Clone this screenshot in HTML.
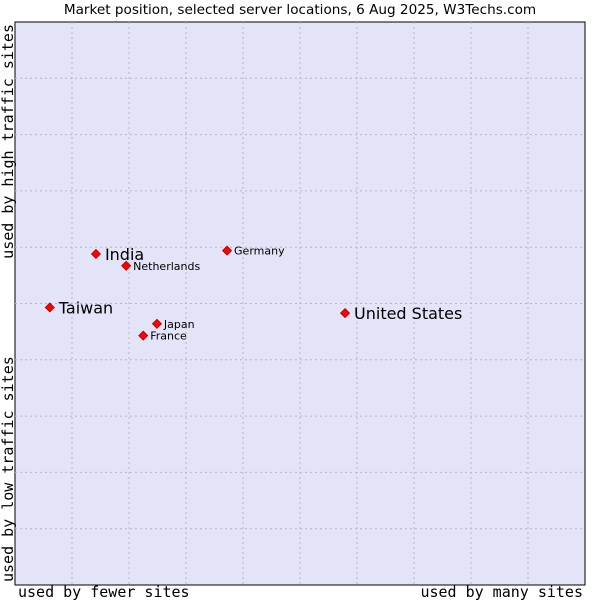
<!DOCTYPE html>
<html><head><meta charset="utf-8"><style>
body{margin:0;background:#fff;}
svg text{font-family:"DejaVu Sans","Liberation Sans",sans-serif;}
.mono{font-family:"DejaVu Sans Mono","Liberation Mono",monospace;}
</style></head><body>
<svg id="chart" width="600" height="600" xmlns="http://www.w3.org/2000/svg">
<text x="300" y="14" text-anchor="middle" font-size="13.6" fill="#000">Market position, selected server locations, 6 Aug 2025, W3Techs.com</text>
<rect x="15" y="22" width="570" height="563" fill="#e3e4f8" stroke="#000" stroke-width="1"/>
<g id="grid"></g>
<g id="points"></g>
<text class="mono" x="18" y="597" font-size="15">used by fewer sites</text>
<text class="mono" x="583" y="597" font-size="15" text-anchor="end">used by many sites</text>
<text class="mono" transform="translate(13,24) rotate(-90)" font-size="15" text-anchor="end">used by high traffic sites</text>
<text class="mono" transform="translate(13,582) rotate(-90)" font-size="15">used by low traffic sites</text>
</svg>
<script>
const names=["India","Netherlands","Germany","Taiwan","United States","Japan","France"];
const xVals=[14.2,19.5,37.2,6.1,57.9,24.9,22.5];
const yVals=[58.8,56.7,59.4,49.3,48.3,46.4,44.3];
const big=[true,false,false,true,true,false,false];
const ns="http://www.w3.org/2000/svg";
const X=v=>15+v/100*570, Y=v=>585-v/100*563;
const grid=document.getElementById('grid');
for(let i=1;i<10;i++){
 const gx=document.createElementNS(ns,'line');
 
 
 gx.setAttribute('x1',X(i*10));gx.setAttribute('x2',X(i*10));gx.setAttribute('y1',22);gx.setAttribute('y2',585);
 gx.setAttribute('stroke','#b8b8b8');gx.setAttribute('stroke-dasharray','2,3');grid.appendChild(gx);
 const gy=document.createElementNS(ns,'line');
 
 
 gy.setAttribute('y1',Y(i*10));gy.setAttribute('y2',Y(i*10));gy.setAttribute('x1',15);gy.setAttribute('x2',585);
 gy.setAttribute('stroke','#b8b8b8');gy.setAttribute('stroke-dasharray','2,3');grid.appendChild(gy);
}
const pts=document.getElementById('points');
names.forEach((n,i)=>{
 const x=X(xVals[i]),y=Y(yVals[i]);
 const d=document.createElementNS(ns,'path');
 
 
 d.setAttribute('d',`M${x} ${y-4.5}L${x+4.5} ${y}L${x} ${y+4.5}L${x-4.5} ${y}Z`);
 d.setAttribute('fill','#ff0000');d.setAttribute('stroke','#b00000');d.setAttribute('stroke-width','0.8');
 pts.appendChild(d);
 const t=document.createElementNS(ns,'text');
 
 
 t.setAttribute('x',x+(big[i]?9:7));t.setAttribute('y',y+(big[i]?6:4));
 t.setAttribute('font-size',big[i]?16:11);t.textContent=n;pts.appendChild(t);
});
</script>
</body></html>
